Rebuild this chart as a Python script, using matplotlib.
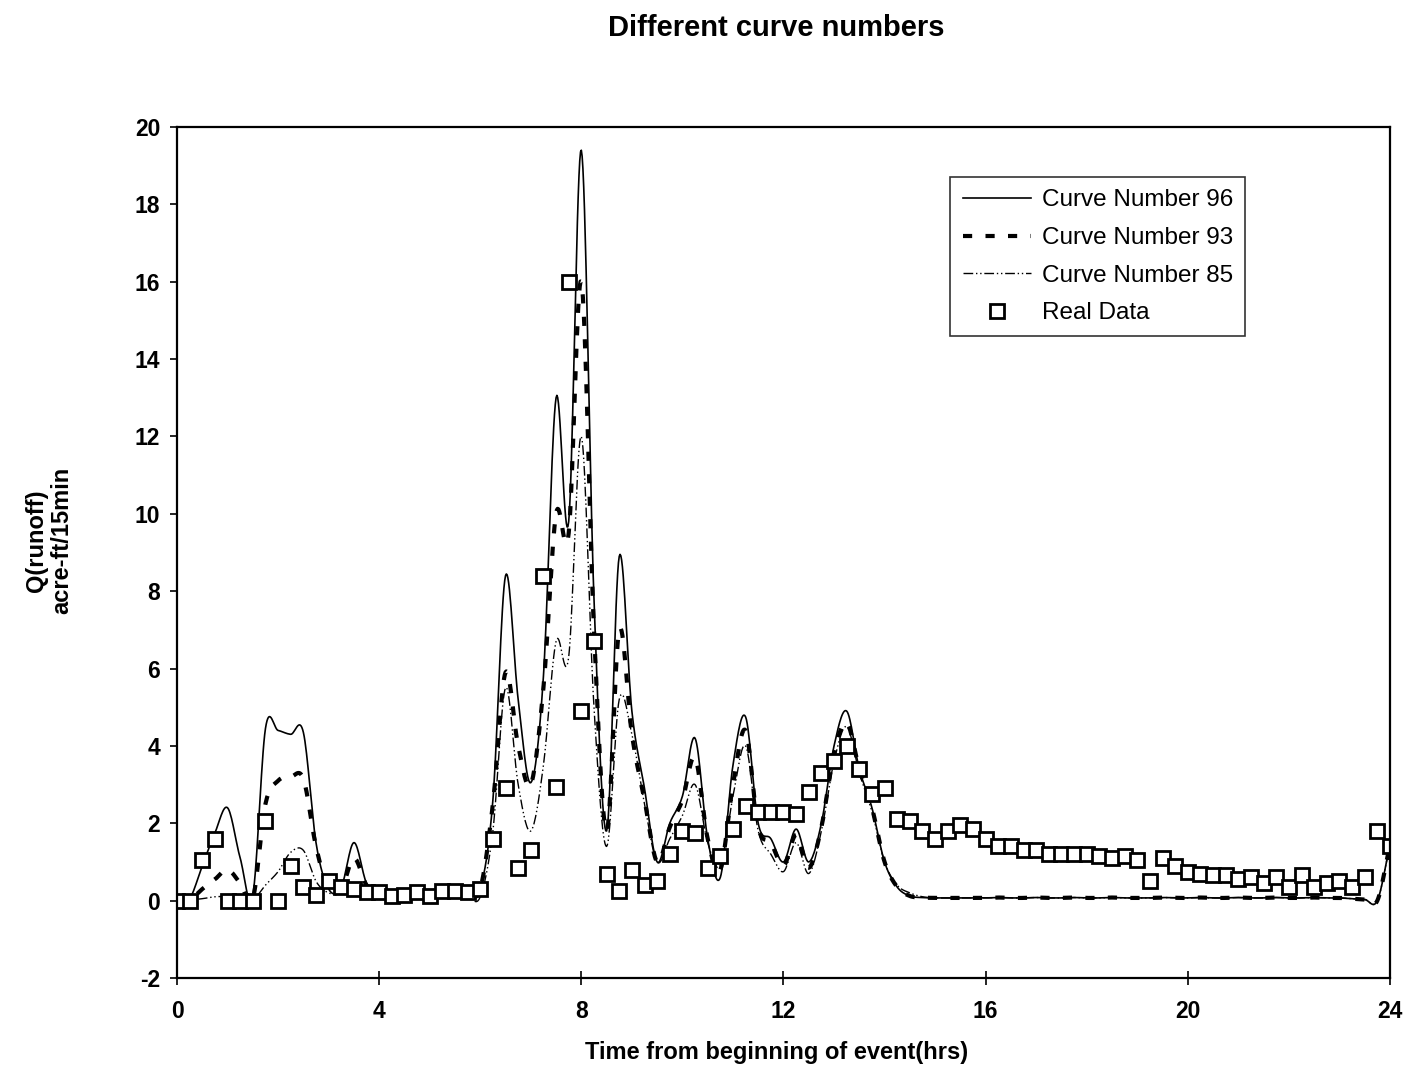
import matplotlib
matplotlib.use("Agg")
import matplotlib.pyplot as plt
import numpy as np

plt.rcParams['font.family'] = ['Liberation Sans', 'DejaVu Sans']
plt.rcParams['axes.unicode_minus'] = False

# 15-minute time steps over the 24 hour event
hours = np.arange(0, 24.01, 0.25)

real_data = [0, 0, 1.05, 1.6, 0, 0, 0, 2.05, 0, 0.9, 0.35, 0.15, 0.5, 0.35, 0.3, 0.22,
             0.22, 0.12, 0.15, 0.22, 0.12, 0.25, 0.25, 0.22, 0.3, 1.6, 2.9, 0.85, 1.3, 8.4, 2.95, 16.0,
             4.9, 6.7, 0.7, 0.25, 0.8, 0.4, 0.5, 1.2, 1.8, 1.75, 0.85, 1.15, 1.85, 2.45, 2.3, 2.3,
             2.3, 2.25, 2.8, 3.3, 3.6, 4.0, 3.4, 2.75, 2.9, 2.1, 2.05, 1.8, 1.6, 1.8, 1.95, 1.85,
             1.6, 1.4, 1.4, 1.3, 1.3, 1.2, 1.2, 1.2, 1.2, 1.15, 1.1, 1.15, 1.05, 0.5, 1.1, 0.9,
             0.75, 0.7, 0.65, 0.65, 0.55, 0.6, 0.45, 0.6, 0.35, 0.65, 0.35, 0.45, 0.5, 0.35, 0.6, 1.8,
             1.4]

cn96 = [0, 0.05, 0.9, 1.75, 2.4, 1.1, 0.15, 4.45, 4.4, 4.3, 4.35, 1.5, 0.3, 0.35, 1.5, 0.45,
        0.2, 0.2, 0.2, 0.2, 0.2, 0.2, 0.2, 0.2, 0.3, 2.6, 8.4, 5.2, 3.05, 5.8, 13.0, 9.8,
        19.4, 7.8, 1.8, 8.9, 4.9, 2.9, 1.0, 2.0, 2.7, 4.2, 1.6, 0.6, 3.5, 4.75, 2.0, 1.6,
        1.0, 1.85, 1.0, 2.0, 4.0, 4.9, 3.4, 2.4, 1.0, 0.35, 0.12, 0.08, 0.07, 0.07, 0.07, 0.07,
        0.07, 0.08, 0.07, 0.07, 0.08, 0.07, 0.07, 0.08, 0.07, 0.07, 0.08, 0.07, 0.07, 0.07, 0.08, 0.07,
        0.07, 0.08, 0.07, 0.07, 0.08, 0.07, 0.07, 0.08, 0.07, 0.07, 0.08, 0.07, 0.07, 0.05, 0.03, 0.0,
        1.45]

cn93 = [0, 0.02, 0.3, 0.55, 0.8, 0.45, 0.05, 2.5, 3.1, 3.2, 3.15, 1.4, 0.3, 0.3, 1.1, 0.4,
        0.2, 0.2, 0.18, 0.2, 0.18, 0.2, 0.2, 0.2, 0.3, 2.5, 5.9, 4.0, 3.0, 5.5, 10.0, 9.5,
        16.0, 7.0, 1.8, 7.0, 4.3, 2.6, 1.0, 1.9, 2.6, 3.7, 1.6, 0.8, 3.0, 4.4, 1.9, 1.5,
        0.9, 1.7, 0.85, 1.9, 3.8, 4.6, 3.4, 2.4, 1.0, 0.35, 0.12, 0.08, 0.07, 0.07, 0.07, 0.07,
        0.07, 0.08, 0.07, 0.07, 0.08, 0.07, 0.07, 0.08, 0.07, 0.07, 0.08, 0.07, 0.07, 0.07, 0.08, 0.07,
        0.07, 0.08, 0.07, 0.07, 0.08, 0.07, 0.07, 0.08, 0.07, 0.07, 0.08, 0.07, 0.07, 0.05, 0.03, 0.0,
        1.45]

cn85 = [0, 0.02, 0.05, 0.1, 0.1, 0.05, 0.02, 0.4, 0.75, 1.25, 1.3, 0.5, 0.2, 0.2, 0.35, 0.2,
        0.15, 0.15, 0.15, 0.15, 0.15, 0.15, 0.12, 0.1, 0.1, 1.8, 5.5, 3.0, 1.8, 3.5, 6.7, 6.3,
        12.0, 5.0, 1.4, 5.2, 4.3, 2.5, 1.0, 1.6, 2.2, 3.0, 1.5, 0.9, 2.7, 4.0, 1.8, 1.2,
        0.75, 1.5, 0.7, 1.8, 3.6, 4.5, 3.3, 2.3, 1.0, 0.4, 0.2, 0.1, 0.07, 0.07, 0.07, 0.07,
        0.07, 0.08, 0.07, 0.07, 0.08, 0.07, 0.07, 0.08, 0.07, 0.07, 0.08, 0.07, 0.07, 0.07, 0.08, 0.07,
        0.07, 0.08, 0.07, 0.07, 0.08, 0.07, 0.07, 0.08, 0.07, 0.07, 0.08, 0.07, 0.07, 0.05, 0.03, 0.0,
        1.45]


def smooth(x, y, n=16):
    # Catmull-Rom spline through the points, like a spreadsheet "smoothed line"
    x = np.asarray(x, float)
    y = np.asarray(y, float)
    px = np.concatenate([[2 * x[0] - x[1]], x, [2 * x[-1] - x[-2]]])
    py = np.concatenate([[2 * y[0] - y[1]], y, [2 * y[-1] - y[-2]]])
    s = np.linspace(0, 1, n, endpoint=False)
    xs, ys = [], []
    for i in range(1, len(px) - 2):
        for p, out in ((px, xs), (py, ys)):
            p0, p1, p2, p3 = p[i - 1], p[i], p[i + 1], p[i + 2]
            out.append(0.5 * (2 * p1 + (p2 - p0) * s
                              + (2 * p0 - 5 * p1 + 4 * p2 - p3) * s ** 2
                              + (3 * p1 - p0 - 3 * p2 + p3) * s ** 3))
    xs.append([x[-1]])
    ys.append([y[-1]])
    return np.concatenate(xs), np.concatenate(ys)


fig = plt.figure(figsize=(14.06, 10.81), dpi=100)
ax = fig.add_axes([0.1259, 0.0953, 0.8627, 0.7872])

sx, sy = smooth(hours, cn96)
ax.plot(sx, sy, color='black', lw=1.2, label='Curve Number 96')
sx, sy = smooth(hours, cn93)
ax.plot(sx, sy, color='black', lw=3.0, dashes=(2.2, 3.2), label='Curve Number 93')
sx, sy = smooth(hours, cn85)
ax.plot(sx, sy, color='black', lw=1.0, dashes=(7, 2, 1, 2, 1, 2), label='Curve Number 85')
ax.plot(hours, real_data, 's', ms=10, mfc='white', mec='black', mew=2.0, ls='none',
        label='Real Data')

ax.set_xlim(0, 24)
ax.set_ylim(-2, 20)
ax.set_xticks(np.arange(0, 25, 4))
ax.set_yticks(np.arange(-2, 21, 2))
for sp in ax.spines.values():
    sp.set_linewidth(1.6)
ax.tick_params(axis='x', direction='inout', length=10, width=1.2, labelsize=16.5, pad=11)
ax.tick_params(axis='y', direction='out', length=5, width=1.2, labelsize=16.5, pad=7)
for lab in ax.get_xticklabels() + ax.get_yticklabels():
    lab.set_fontweight('bold')

leg = ax.legend(loc='upper left', bbox_to_anchor=(0.676, 0.836), bbox_transform=fig.transFigure,
                frameon=True, fancybox=False, fontsize=17.5, handlelength=2.8, handletextpad=0.45,
                labelspacing=0.64, borderpad=0.5, borderaxespad=0)
leg.get_frame().set_edgecolor('black')
leg.get_frame().set_linewidth(1.2)

fig.text(0.552, 0.974, 'Different curve numbers', ha='center', va='center',
         fontsize=21, fontweight='bold')
fig.text(0.552, 0.026, 'Time from beginning of event(hrs)', ha='center', va='center',
         fontsize=17, fontweight='bold')
fig.text(0.035, 0.5, 'Q(runoff)\nacre-ft/15min', ha='center', va='center',
         rotation=90, fontsize=17, fontweight='bold', linespacing=1.1)

fig.savefig('out.png', dpi=100)
